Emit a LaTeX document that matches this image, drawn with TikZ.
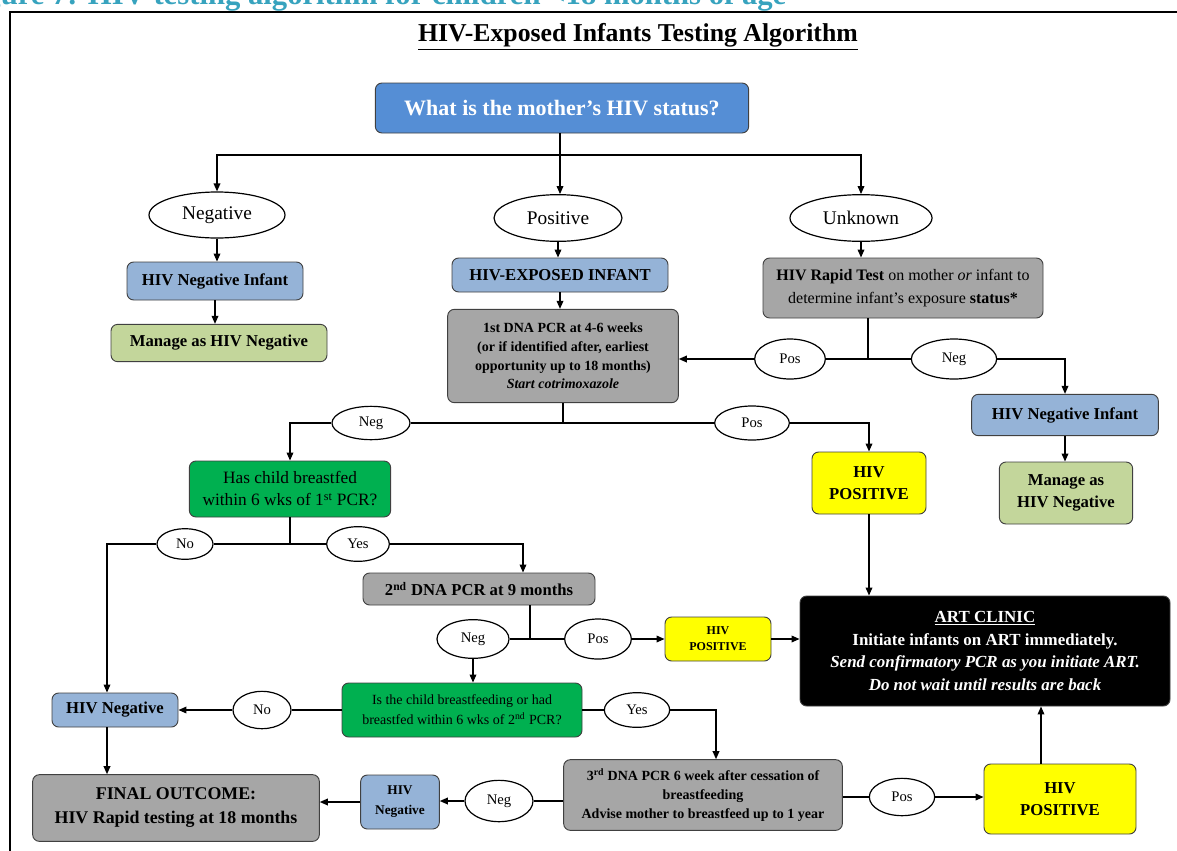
\documentclass[tikz,border=0pt]{standalone}
\usepackage{fontspec}
\setmainfont{Liberation Serif}
\usepackage{tikz}
\usetikzlibrary{shapes.geometric,arrows.meta}

\begin{document}
\begin{tikzpicture}[x=0.75pt,y=0.75pt,yscale=-1,xscale=1,
  box/.style={draw={rgb, 255:red, 64; green, 64; blue, 64}, line width=0.7pt, rounded corners=5pt, align=center, inner sep=0pt, font=\fontsize{12.5}{17}\selectfont\bfseries},
  bluebox/.style={box, fill={rgb, 255:red, 149; green, 179; blue, 215}},
  greybox/.style={box, fill={rgb, 255:red, 166; green, 166; blue, 166}},
  khakibox/.style={box, fill={rgb, 255:red, 195; green, 214; blue, 155}},
  greenbox/.style={box, fill={rgb, 255:red, 0; green, 176; blue, 80}},
  yellowbox/.style={box, fill={rgb, 255:red, 255; green, 255; blue, 0}},
  oval/.style={ellipse, draw, fill=white, line width=0.9pt, inner sep=0pt, font=\fontsize{11}{13}\selectfont},
  bigoval/.style={oval, font=\fontsize{14.5}{17}\selectfont},
  ln/.style={line width=1pt},
  arr/.style={ln, -{Triangle[length=6pt,width=5pt]}}
]
\useasboundingbox (0,0) rectangle (1177,850);

%Frame and headings
\draw [line width=1.1pt] (10,880) -- (10,12) -- (1200,12);
\node [anchor=base east, font=\fontsize{23}{26}\selectfont\bfseries, text={rgb, 255:red, 55; green, 163; blue, 190}] (cap) at (791,4) {Figure 7: HIV testing algorithm for children <18 months of age};
\node [font=\fontsize{19.3}{22}\selectfont\bfseries] (title) at (638,37) {\underline{HIV-Exposed Infants Testing Algorithm}};

%Shape: Rounded Rect
\node [box, fill={rgb, 255:red, 85; green, 142; blue, 213}, text=white, minimum width=280pt, minimum height=37.5pt, font=\fontsize{16.5}{20}\selectfont\bfseries] (q) at (562,108) {What is the mother’s HIV status?};

%Shape: Ellipse
\node [bigoval, minimum width=102pt, minimum height=34.5pt] (eneg) at (217,215) {Negative};
\node [bigoval, minimum width=96pt, minimum height=35pt] (epos) at (558,218) {Positive};
\node [bigoval, minimum width=106.5pt, minimum height=35pt] (eunk) at (861,218) {Unknown};

% Negative branch
\node [bluebox, minimum width=132pt, minimum height=28.5pt] (negInf) at (215,281) {HIV Negative Infant};
\node [khakibox, minimum width=162pt, minimum height=28pt] (manNeg) at (219,343) {Manage as HIV Negative};

% Positive branch
\node [bluebox, minimum width=162pt, minimum height=25.5pt] (expInf) at (560,275) {HIV-EXPOSED INFANT};
\node [greybox, minimum width=173pt, minimum height=70pt, font=\fontsize{10.5}{14}\selectfont\bfseries] (pcrA) at (563,356) {1st DNA PCR at 4-6 weeks\\(or if identified after, earliest\\opportunity up to 18 months)\\\textit{Start cotrimoxazole}};

% Unknown branch
\node [greybox, minimum width=210pt, minimum height=45pt, font=\fontsize{12}{17}\selectfont] (rapid) at (903,288) {\textbf{HIV Rapid Test} on mother \textit{or} infant to\\determine infant’s exposure \textbf{status*}};
\node [oval, minimum width=53pt, minimum height=30pt] (ePosA) at (790,359) {Pos};
\node [oval, minimum width=64pt, minimum height=30pt] (eNegA) at (954,359) {Neg};
\node [bluebox, minimum width=140pt, minimum height=31pt] (negInfR) at (1065,415) {HIV Negative Infant};
\node [khakibox, minimum width=100pt, minimum height=46.5pt] (manNegR) at (1066,493) {Manage as\\HIV Negative};

% After 1st PCR
\node [oval, minimum width=58.5pt, minimum height=25pt] (eNegB) at (371,423) {Neg};
\node [oval, minimum width=56pt, minimum height=25.5pt] (ePosB) at (752,423) {Pos};
\node [yellowbox, minimum width=85.5pt, minimum height=46.5pt] (hivPosA) at (869,483) {HIV\\POSITIVE};
\node [greenbox, minimum width=151pt, minimum height=42pt, font=\fontsize{13}{16.5}\selectfont] (bfA) at (290,489) {Has child breastfed\\within 6 wks of 1\textsuperscript{st} PCR?};
\node [oval, minimum width=42pt, minimum height=23pt] (eNoA) at (185,544) {No};
\node [oval, minimum width=47pt, minimum height=26pt] (eYesA) at (358,544) {Yes};

% 2nd PCR
\node [greybox, minimum width=174pt, minimum height=24pt] (pcrB) at (479,589) {2\textsuperscript{nd} DNA PCR at 9 months};
\node [oval, minimum width=54pt, minimum height=29pt] (eNegC) at (473,639) {Neg};
\node [oval, minimum width=50pt, minimum height=30pt] (ePosC) at (598,639) {Pos};
\node [yellowbox, minimum width=79.5pt, minimum height=33pt, font=\fontsize{9}{12}\selectfont\bfseries] (hivPosB) at (718,639) {HIV\\POSITIVE};
\node [box, fill=black, text=white, minimum width=277.5pt, minimum height=82.5pt, font=\fontsize{12.7}{17}\selectfont\bfseries] (art) at (985,651) {\underline{ART CLINIC}\\Initiate infants on ART immediately.\\\textit{Send confirmatory PCR as you initiate ART.}\\\textit{Do not wait until results are back}};
\node [greenbox, minimum width=180pt, minimum height=40.5pt, font=\fontsize{10.5}{15}\selectfont] (bfB) at (462,710) {Is the child breastfeeding or had\\breastfed within 6 wks of 2\textsuperscript{nd} PCR?};
\node [oval, minimum width=43.5pt, minimum height=28pt] (eNoB) at (262,710) {No};
\node [oval, minimum width=49pt, minimum height=26pt] (eYesB) at (637,710) {Yes};
\node [bluebox, minimum width=94.5pt, minimum height=25.5pt] (negL) at (115,710) {HIV Negative};

% 3rd PCR and outcome
\node [greybox, minimum width=215pt, minimum height=50pt, font=\fontsize{13.4}{18}\selectfont\bfseries] (final) at (176,808) {FINAL OUTCOME:\\HIV Rapid testing at 18 months};
\node [bluebox, minimum width=59pt, minimum height=40.5pt, font=\fontsize{10}{15}\selectfont\bfseries] (negS) at (400,802) {HIV\\Negative};
\node [oval, minimum width=51pt, minimum height=31pt] (eNegD) at (499,801) {Neg};
\node [greybox, minimum width=209pt, minimum height=53pt, font=\fontsize{10.5}{14}\selectfont\bfseries] (pcrC) at (703,795) {3\textsuperscript{rd} DNA PCR 6 week after cessation of\\breastfeeding\\Advise mother to breastfeed up to 1 year};
\node [oval, minimum width=49pt, minimum height=28pt] (ePosD) at (902,797) {Pos};
\node [yellowbox, minimum width=114pt, minimum height=52.5pt] (hivPosC) at (1060,799) {HIV\\POSITIVE};

%Straight Lines
\coordinate (jq) at (560,155);
\draw [ln] (jq |- q.south) -- (jq);
\draw [arr] (jq) -| (eneg.north);
\draw [arr] (jq) -- (jq |- epos.north);
\draw [arr] (jq) -| (eunk.north);
\draw [arr] (eneg.south) -- (eneg.south |- negInf.north);
\draw [arr] (negInf.south) -- (negInf.south |- manNeg.north);
\draw [arr] (epos.south) -- (epos.south |- expInf.north);
\draw [arr] (expInf.south) -- (expInf.south |- pcrA.north);
\draw [arr] (eunk.south) -- (eunk.south |- rapid.north);

\coordinate (jr) at (868,359);
\draw [ln] (jr |- rapid.south) -- (jr);
\draw [ln] (ePosA.east) -- (eNegA.west);
\draw [arr] (ePosA.west) -- (ePosA.west -| pcrA.east);
\draw [arr] (eNegA.east) -| (negInfR.north);
\draw [arr] (negInfR.south) -- (negInfR.south |- manNegR.north);

\coordinate (jp) at (563,423);
\draw [ln] (jp |- pcrA.south) -- (jp);
\draw [ln] (eNegB.east) -- (ePosB.west);
\draw [arr] (eNegB.west) -| (bfA.north);
\draw [arr] (ePosB.east) -| (hivPosA.north);

\coordinate (ja) at (290,544);
\coordinate (xl) at (107,544);
\coordinate (xy) at (523,544);
\draw [ln] (ja |- bfA.south) -- (ja);
\draw [ln] (eNoA.east) -- (eYesA.west);
\draw [arr] (eNoA.west) -- (xl) -- (xl |- negL.north);
\draw [arr] (eYesA.east) -- (xy) -- (xy |- pcrB.north);

\coordinate (jb) at (530,639);
\draw [ln] (jb |- pcrB.south) -- (jb);
\draw [ln] (eNegC.east) -- (ePosC.west);
\draw [arr] (ePosC.east) -- (hivPosB.west);
\draw [arr] (hivPosB.east) -- (hivPosB.east -| art.west);
\draw [arr] (eNegC.south) -- (eNegC.south |- bfB.north);

\coordinate (xz) at (716,710);
\draw [ln] (eNoB.east) -- (eNoB.east -| bfB.west);
\draw [arr] (eNoB.west) -- (eNoB.west -| negL.east);
\draw [ln] (bfB.east) -- (eYesB.west);
\draw [arr] (eYesB.east) -- (xz) -- (xz |- pcrC.north);

\coordinate (xc) at (1041,760);
\draw [arr] (xl |- negL.south) -- (xl |- final.north);
\draw [ln] (eNegD.east) -- (eNegD.east -| pcrC.west);
\draw [arr] (eNegD.west) -- (eNegD.west -| negS.east);
\draw [arr] (negS.west) -- (negS.west -| final.east);
\draw [ln] (ePosD.west -| pcrC.east) -- (ePosD.west);
\draw [arr] (ePosD.east) -- (ePosD.east -| hivPosC.west);
\draw [arr] (xc |- hivPosC.north) -- (xc |- art.south);
\draw [arr] (hivPosA.south) -- (hivPosA.south |- art.north);

\end{tikzpicture}
\end{document}
